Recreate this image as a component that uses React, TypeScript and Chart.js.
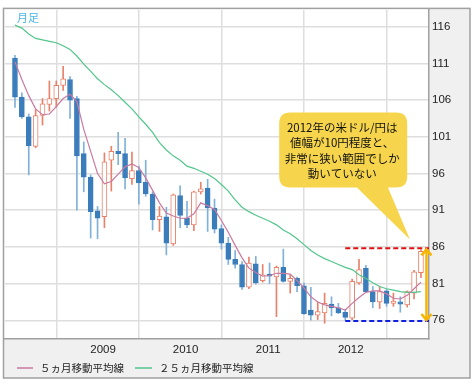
import React, { useEffect, useRef } from 'react';
import { Chart, registerables } from 'chart.js';

Chart.register(...registerables);

// Monthly candles, Jan 2008 (index 0) to Dec 2012 (index 59)
const opens = [
  111.7, 106.4, 103.7, 99.7, 103.9, 105.4, 106.2, 108.0, 108.8, 106.2, 98.7, 95.5,
  90.9, 90.1, 97.8, 99.0, 98.7, 95.3, 96.4, 94.8, 93.2, 89.7, 90.1, 86.4,
  93.0, 89.9, 89.0, 93.5, 94.0, 91.3, 88.5, 86.5, 84.3, 83.6, 80.5, 83.7,
  81.4, 82.3, 81.9, 83.2, 81.3, 81.7, 80.7, 77.4, 76.7, 77.0, 78.2, 77.7,
  77.1, 76.3, 81.1, 83.1, 79.9, 78.5, 80.0, 78.3, 78.5, 78.1, 79.7, 82.5,
];
const highs = [
  112.1, 107.0, 104.1, 104.7, 106.2, 108.6, 108.6, 110.6, 109.2, 106.5, 100.3, 95.8,
  91.5, 98.8, 99.7, 101.6, 100.8, 98.9, 97.0, 97.8, 93.5, 91.5, 91.4, 93.2,
  94.3, 92.2, 93.6, 94.8, 95.2, 92.5, 89.0, 87.3, 85.5, 84.0, 84.6, 84.7,
  83.6, 83.8, 83.4, 85.7, 82.2, 81.9, 81.1, 80.5, 78.5, 79.7, 79.2, 78.3,
  77.5, 81.6, 84.3, 83.5, 80.6, 80.6, 80.2, 79.7, 79.2, 80.0, 82.8, 85.6,
];
const lows = [
  105.0, 103.5, 95.8, 99.5, 102.6, 104.5, 105.0, 107.3, 103.5, 91.0, 93.5, 87.2,
  87.1, 88.6, 93.6, 97.2, 93.9, 94.5, 91.8, 92.9, 88.3, 88.1, 84.9, 86.2,
  88.6, 88.6, 88.2, 93.2, 88.1, 87.9, 85.7, 83.6, 83.1, 80.2, 80.3, 80.9,
  81.2, 81.0, 76.5, 81.2, 79.7, 79.9, 76.8, 76.0, 76.1, 75.6, 76.6, 76.9,
  76.0, 76.1, 80.9, 79.8, 77.7, 77.6, 77.9, 77.9, 77.1, 77.8, 78.9, 81.8,
];
const closes = [
  106.4, 103.7, 99.8, 103.9, 105.5, 106.2, 108.0, 108.9, 106.0, 98.4, 95.5, 90.8,
  89.9, 97.6, 99.0, 98.7, 95.4, 96.4, 94.7, 93.2, 89.7, 90.2, 86.5, 93.1,
  90.3, 89.0, 93.5, 93.9, 91.3, 88.4, 86.5, 84.3, 83.6, 80.5, 83.8, 81.1,
  82.2, 82.0, 83.2, 81.3, 81.7, 80.7, 76.9, 76.7, 77.2, 78.3, 77.7, 77.0,
  76.4, 81.3, 82.9, 79.9, 78.5, 79.9, 78.3, 78.6, 78.2, 79.9, 82.6, 85.4,
];
// Moving averages
const ma5 = [
  111.2, 108.8, 106.6, 104.8, 104.0, 104.1, 105.1, 106.2, 106.8, 105.8, 102.0, 99.0,
  96.0, 94.6, 94.9, 95.9, 96.9, 97.3, 96.8, 95.4, 93.7, 92.0, 90.6, 90.2,
  89.9, 89.9, 90.5, 92.0, 91.6, 91.1, 89.6, 88.0, 86.2, 84.5, 83.1, 82.5,
  82.0, 82.1, 82.4, 82.4, 82.3, 81.4, 80.4, 79.2, 78.5, 78.1, 77.9, 77.7,
  77.4, 78.3, 79.1, 79.8, 80.0, 80.0, 79.6, 79.0, 78.9, 79.4, 80.3, 81.2,
];
const ma25 = [
  116.2, 115.8, 115.0, 114.4, 114.2, 114.0, 113.8, 113.4, 112.9, 112.0, 110.9, 109.9,
  108.9, 108.1, 107.4, 106.6, 105.7, 104.8, 103.7, 102.7, 101.6, 100.2, 99.2, 98.4,
  97.8, 97.0, 96.7, 96.3, 95.9, 95.3, 94.5, 93.6, 92.4, 91.4, 90.8, 90.3,
  89.9, 89.5, 89.0, 88.3, 87.8, 87.1, 86.3, 85.5, 84.9, 84.4, 84.0, 83.6,
  83.2, 82.9, 82.2, 81.7, 81.1, 80.6, 80.3, 80.1, 79.9, 79.8, 79.8, 79.9,
];

const yearTicks = [12, 24, 36, 48];
const yearLabels = ['2009', '2010', '2011', '2012'];
const priceTicks = [76, 81, 86, 91, 96, 101, 106, 111, 116];
const rangeHigh = 85.8;
const rangeLow = 75.9;
const rangeStart = 48;
const arrowAt = 59.8;
const calloutLines = ['2012年の米ドル/円は', '値幅が10円程度と、', '非常に狭い範囲でしか', '動いていない'];
const legendLabels = ['５ヵ月移動平均線', '２５ヵ月移動平均線'];
const periodLabel = '月足';

const UP = '#e8826a';
const DOWN = '#3b7dbb';
const DOWN_WICK = '#7fb1da';
const PINK = '#c97aa0';
const GREEN = '#52c68c';
const GRID = '#dedede';
const FRAME = '#a0a0a0';
const PANEL = '#f0f0f0';
const JP = "'Noto Sans CJK JP', 'Noto Sans', sans-serif";

const isUp = (i: number) => closes[i] >= opens[i];

const bgPlugin = {
  id: 'bgPanels',
  beforeDraw(chart: any) {
    const { ctx } = chart;
    const a = chart.chartArea;
    const xs = chart.scales.x;
    const ys = chart.scales.y;
    ctx.save();
    ctx.fillStyle = '#ffffff';
    ctx.fillRect(0, 0, chart.width, chart.height);
    ctx.fillStyle = PANEL;
    ctx.fillRect(a.left - 2, a.bottom, ys.right - a.left + 2, xs.bottom - a.bottom);
    ctx.fillRect(a.right, a.top - 2, ys.right - a.right, a.bottom - a.top + 2);
    ctx.restore();
  },
  afterDraw(chart: any) {
    const { ctx } = chart;
    const a = chart.chartArea;
    const xs = chart.scales.x;
    const ys = chart.scales.y;
    ctx.save();
    // outer frame
    ctx.strokeStyle = FRAME;
    ctx.lineWidth = 1.5;
    ctx.strokeRect(a.left - 1.5, a.top - 1.5, ys.right - a.left + 1.5, xs.bottom - a.top + 1.5);
    // legend
    const ly = xs.bottom - 10;
    ctx.lineWidth = 1.5;
    ctx.strokeStyle = PINK;
    ctx.beginPath();
    ctx.moveTo(a.left + 12, ly);
    ctx.lineTo(a.left + 28, ly);
    ctx.stroke();
    ctx.font = `10.5px ${JP}`;
    ctx.fillStyle = '#222';
    ctx.textBaseline = 'middle';
    ctx.textAlign = 'left';
    ctx.fillText(legendLabels[0], a.left + 35, ly);
    const w0 = ctx.measureText(legendLabels[0]).width;
    const gx = a.left + 35 + w0 + 11;
    ctx.strokeStyle = GREEN;
    ctx.beginPath();
    ctx.moveTo(gx, ly);
    ctx.lineTo(gx + 17, ly);
    ctx.stroke();
    ctx.fillText(legendLabels[1], gx + 24, ly);
    ctx.restore();
  },
};

const annotPlugin = {
  id: 'annot',
  afterDatasetsDraw(chart: any) {
    const { ctx } = chart;
    const a = chart.chartArea;
    const xs = chart.scales.x;
    const ys = chart.scales.y;
    ctx.save();
    // period label
    ctx.font = `11px ${JP}`;
    ctx.fillStyle = '#4db6e6';
    ctx.textBaseline = 'middle';
    ctx.textAlign = 'left';
    ctx.fillText(periodLabel, a.left + 12, a.top + 8);

    // dashed range lines
    const x0 = xs.getPixelForValue(rangeStart);
    const yHi = ys.getPixelForValue(rangeHigh);
    const yLo = ys.getPixelForValue(rangeLow);
    ctx.lineWidth = 2;
    ctx.setLineDash([5, 3]);
    ctx.strokeStyle = '#e01010';
    ctx.beginPath();
    ctx.moveTo(x0, yHi);
    ctx.lineTo(a.right, yHi);
    ctx.stroke();
    ctx.strokeStyle = '#1020e0';
    ctx.beginPath();
    ctx.moveTo(x0, yLo);
    ctx.lineTo(a.right, yLo);
    ctx.stroke();
    ctx.setLineDash([]);

    // double arrow
    const ax = xs.getPixelForValue(arrowAt);
    ctx.strokeStyle = '#f7b500';
    ctx.lineWidth = 2.5;
    ctx.beginPath();
    ctx.moveTo(ax, yHi + 1);
    ctx.lineTo(ax, yLo - 1);
    ctx.stroke();
    ctx.beginPath();
    ctx.moveTo(ax - 5, yHi + 7);
    ctx.lineTo(ax, yHi + 1);
    ctx.lineTo(ax + 5, yHi + 7);
    ctx.moveTo(ax - 5, yLo - 7);
    ctx.lineTo(ax, yLo - 1);
    ctx.lineTo(ax + 5, yLo - 7);
    ctx.stroke();

    // callout bubble
    const bl = xs.getPixelForValue(38.4);
    const br = xs.getPixelForValue(57.0);
    const bt = ys.getPixelForValue(104.3);
    const bb = ys.getPixelForValue(94.1);
    const tl = xs.getPixelForValue(49.7);
    const tr = xs.getPixelForValue(54.2);
    const tipX = xs.getPixelForValue(57.4);
    const tipY = ys.getPixelForValue(87.0);
    const r = 11;
    ctx.fillStyle = '#f6d54c';
    ctx.beginPath();
    ctx.moveTo(bl + r, bt);
    ctx.lineTo(br - r, bt);
    ctx.quadraticCurveTo(br, bt, br, bt + r);
    ctx.lineTo(br, bb - r);
    ctx.quadraticCurveTo(br, bb, br - r, bb);
    ctx.lineTo(tr, bb);
    ctx.lineTo(tipX, tipY);
    ctx.lineTo(tl, bb);
    ctx.lineTo(bl + r, bb);
    ctx.quadraticCurveTo(bl, bb, bl, bb - r);
    ctx.lineTo(bl, bt + r);
    ctx.quadraticCurveTo(bl, bt, bl + r, bt);
    ctx.closePath();
    ctx.fill();

    ctx.fillStyle = '#111';
    ctx.font = `11.5px ${JP}`;
    ctx.textAlign = 'center';
    ctx.textBaseline = 'middle';
    const cx = (bl + br) / 2 - 1;
    calloutLines.forEach((t, k) => {
      ctx.fillText(t, cx, bt + 15 + k * 15.3);
    });
    ctx.restore();
  },
};

export default function App() {
  const ref = useRef<HTMLCanvasElement | null>(null);

  useEffect(() => {
    if (!ref.current) return;
    const idx = opens.map((_, i) => i);
    const chart = new Chart(ref.current, {
      type: 'bar',
      data: {
        datasets: [
          {
            type: 'line',
            label: legendLabels[0],
            data: idx.map((i) => ({ x: i, y: ma5[i] })),
            borderColor: PINK,
            borderWidth: 1.2,
            pointRadius: 0,
            fill: false,
            order: 0,
          } as any,
          {
            type: 'line',
            label: legendLabels[1],
            data: idx.map((i) => ({ x: i, y: ma25[i] })),
            borderColor: GREEN,
            borderWidth: 1.2,
            pointRadius: 0,
            fill: false,
            order: 1,
          } as any,
          {
            type: 'bar',
            label: 'body',
            data: idx.map((i) => ({ x: i, y: [opens[i], closes[i]] })),
            backgroundColor: idx.map((i) => (isUp(i) ? '#ffffff' : DOWN)),
            borderColor: idx.map((i) => (isUp(i) ? UP : DOWN)),
            borderWidth: 1,
            borderSkipped: false,
            barThickness: 5,
            grouped: false,
            order: 2,
          } as any,
          {
            type: 'bar',
            label: 'wick',
            data: idx.map((i) => ({ x: i, y: [lows[i], highs[i]] })),
            backgroundColor: idx.map((i) => (isUp(i) ? UP : DOWN_WICK)),
            borderWidth: 0,
            barThickness: 1,
            grouped: false,
            order: 3,
          } as any,
        ],
      },
      options: {
        animation: false,
        responsive: false,
        layout: { padding: { left: 5, top: 5, right: 4, bottom: 6 } },
        plugins: {
          legend: { display: false },
          tooltip: { enabled: false },
          title: { display: false },
        },
        scales: {
          x: {
            type: 'linear',
            position: 'bottom',
            min: -1.45,
            max: 60.17,
            offset: false,
            grid: { color: GRID, lineWidth: 1.5, drawTicks: false },
            border: { display: true, color: FRAME, width: 1.5 },
            ticks: {
              padding: 4,
              labelOffset: 5.5,
              maxRotation: 0,
              autoSkip: false,
              color: '#222',
              font: { family: "'Liberation Sans', Arial, sans-serif", size: 11.5 },
              callback: (v: any) => {
                const k = yearTicks.indexOf(Number(v));
                return k >= 0 ? yearLabels[k] : '';
              },
            },
            afterBuildTicks: (s: any) => {
              s.ticks = yearTicks.map((v) => ({ value: v }));
            },
            afterFit: (s: any) => {
              s.height = 39;
            },
          },
          y: {
            type: 'linear',
            position: 'right',
            min: 73.45,
            max: 118.28,
            grid: { color: GRID, lineWidth: 1.5, drawTicks: false },
            border: { display: true, color: FRAME, width: 1.5 },
            ticks: {
              padding: 3,
              color: '#222',
              font: { family: "'Liberation Sans', Arial, sans-serif", size: 11.5 },
              callback: (v: any) => String(v),
            },
            afterBuildTicks: (s: any) => {
              s.ticks = priceTicks.map((v) => ({ value: v }));
            },
            afterFit: (s: any) => {
              s.width = 41;
            },
          },
        },
      },
      plugins: [bgPlugin, annotPlugin],
    });
    return () => chart.destroy();
  }, []);

  return (
    <div style={{ position: 'fixed', left: 0, top: 0, width: 474, height: 384, background: '#fff' }}>
      <canvas ref={ref} width={474} height={384} style={{ display: 'block' }} />
    </div>
  );
}
